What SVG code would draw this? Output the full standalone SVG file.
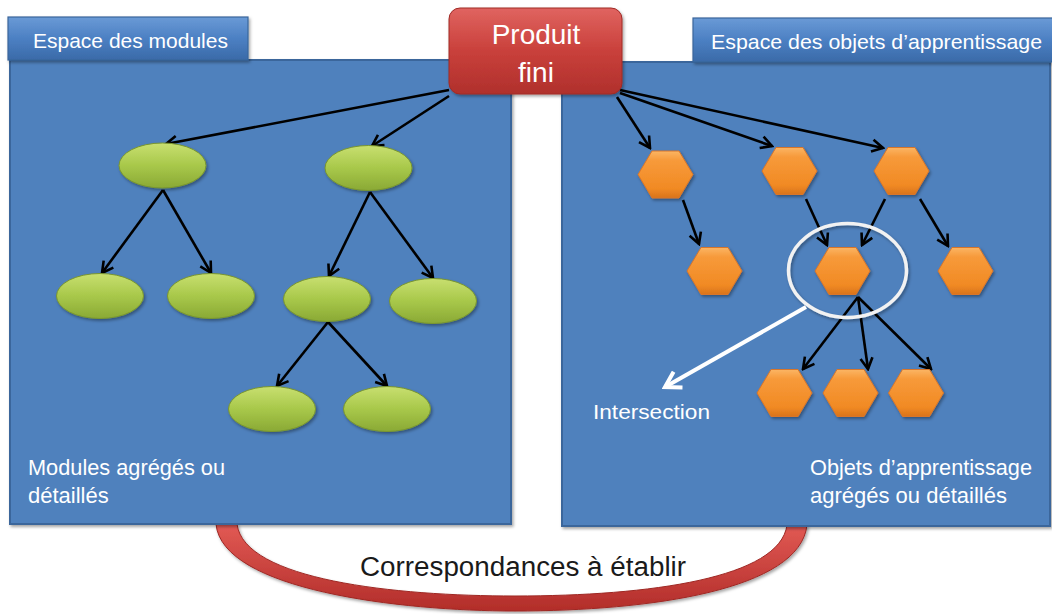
<svg xmlns="http://www.w3.org/2000/svg" width="1052" height="614" viewBox="0 0 1052 614">
<style>
.lbl{font-family:"Liberation Sans",Arial,sans-serif;fill:#ffffff}
.panel{fill:#4f81bd;stroke:#3a669b;stroke-width:2}
.tab{fill:url(#gTab);stroke:#3a669b;stroke-width:1.2}
.ell{fill:url(#gGreen);stroke:#7a962e;stroke-width:1}
.hex{fill:url(#gOrange);stroke:#d8762a;stroke-width:1}
.con{stroke:#000;stroke-width:2.6;fill:none;marker-end:url(#arr)}
</style>
<defs>
<linearGradient id="gTab" x1="0" y1="0" x2="0" y2="1">
<stop offset="0" stop-color="#6a9ad6"/><stop offset="0.5" stop-color="#4c80c3"/><stop offset="1" stop-color="#3a6aa8"/>
</linearGradient>
<linearGradient id="gRed" x1="0" y1="0" x2="0" y2="1">
<stop offset="0" stop-color="#e06460"/><stop offset="0.5" stop-color="#c9403b"/><stop offset="1" stop-color="#b0302c"/>
</linearGradient>
<linearGradient id="gArc" x1="0" y1="0" x2="0" y2="1">
<stop offset="0" stop-color="#e25a55"/><stop offset="1" stop-color="#b22d29"/>
</linearGradient>
<linearGradient id="gGreen" x1="0" y1="0" x2="0" y2="1">
<stop offset="0" stop-color="#c8df70"/><stop offset="0.5" stop-color="#a8c84a"/><stop offset="1" stop-color="#8aa935"/>
</linearGradient>
<linearGradient id="gOrange" x1="0" y1="0" x2="0" y2="1">
<stop offset="0" stop-color="#fbb564"/><stop offset="0.2" stop-color="#f79a3a"/><stop offset="0.8" stop-color="#f18a24"/><stop offset="1" stop-color="#d9731b"/>
</linearGradient>
<filter id="sh" x="-10%" y="-10%" width="130%" height="130%">
<feDropShadow dx="1.5" dy="2" stdDeviation="1.5" flood-color="#000" flood-opacity="0.35"/>
</filter>
<marker id="arr" markerUnits="userSpaceOnUse" markerWidth="16" markerHeight="16" viewBox="0 0 16 16" refX="14" refY="8" orient="auto">
<path d="M3,2 L14,8 L3,14" fill="none" stroke="#000" stroke-width="2.6" stroke-linejoin="miter"/>
</marker>
<marker id="arrW" markerUnits="userSpaceOnUse" markerWidth="22" markerHeight="22" viewBox="0 0 22 22" refX="19" refY="11" orient="auto">
<path d="M4,2 L19,11 L4,20" fill="none" stroke="#ffffff" stroke-width="4"/>
</marker>
</defs>
<rect width="1052" height="614" fill="#ffffff"/>

<g id="arc-correspondances">
<path d="M216,524 C222,590 400,611 515,611 C650,611 800,590 807,525 L787,525 C780,578 650,596 515,596 C395,596 244,580 237,524 Z" fill="url(#gArc)" stroke="#9e2824" stroke-width="1" filter="url(#sh)"/>
<text x="523" y="576" font-family="Liberation Sans,Arial,sans-serif" font-size="27" fill="#1a1a1a" text-anchor="middle" textLength="326" lengthAdjust="spacingAndGlyphs">Correspondances à établir</text>
</g>

<g id="panel-modules">
<rect class="panel" x="10" y="60" width="501" height="464" filter="url(#sh)"/>
<rect class="tab" x="8" y="17" width="240" height="43" filter="url(#sh)"/>
<text class="lbl" x="33" y="48" font-size="21">Espace des modules</text>
<text class="lbl" x="28" y="475" font-size="22" textLength="197" lengthAdjust="spacingAndGlyphs">Modules agrégés ou</text>
<text class="lbl" x="28" y="503" font-size="22">détaillés</text>
</g>

<g id="panel-objets">
<rect class="panel" x="562" y="62" width="488" height="464" filter="url(#sh)"/>
<rect class="tab" x="693" y="18" width="360" height="44" filter="url(#sh)"/>
<text class="lbl" x="711" y="49" font-size="21" textLength="331" lengthAdjust="spacingAndGlyphs">Espace des objets d’apprentissage</text>
<text class="lbl" x="810" y="475" font-size="22" textLength="222" lengthAdjust="spacingAndGlyphs">Objets d’apprentissage</text>
<text class="lbl" x="810" y="503" font-size="22">agrégés ou détaillés</text>
</g>

<g id="connectors">
<line class="con" x1="449" y1="90" x2="166" y2="144"/>
<line class="con" x1="449" y1="96" x2="372" y2="146"/>
<line class="con" x1="163" y1="190" x2="102" y2="273"/>
<line class="con" x1="163" y1="190" x2="211" y2="273"/>
<line class="con" x1="370" y1="192" x2="329" y2="276"/>
<line class="con" x1="370" y1="192" x2="433" y2="278"/>
<line class="con" x1="328" y1="322" x2="277" y2="386"/>
<line class="con" x1="328" y1="322" x2="387" y2="386"/>
<line class="con" x1="617" y1="97" x2="650" y2="148"/>
<line class="con" x1="620" y1="93" x2="772" y2="146"/>
<line class="con" x1="620" y1="90" x2="883" y2="148"/>
<line class="con" x1="683" y1="200" x2="699" y2="244"/>
<line class="con" x1="806" y1="199" x2="827" y2="245"/>
<line class="con" x1="885" y1="199" x2="862" y2="245"/>
<line class="con" x1="920" y1="199" x2="948" y2="246"/>
<line class="con" x1="858" y1="297" x2="803" y2="369"/>
<line class="con" x1="858" y1="297" x2="868" y2="369"/>
<line class="con" x1="858" y1="297" x2="931" y2="369"/>
</g>

<g id="produit-fini">
<rect x="449" y="8" width="173" height="86" rx="11" fill="url(#gRed)" stroke="#a02a26" stroke-width="1" filter="url(#sh)"/>
<text class="lbl" x="536" y="44" font-size="28" text-anchor="middle">Produit</text>
<text class="lbl" x="536" y="82" font-size="28" text-anchor="middle">fini</text>
</g>

<g id="modules">
<ellipse id="m1" class="ell" cx="162.5" cy="165.5" rx="43.5" ry="22.5" filter="url(#sh)"/>
<ellipse id="m2" class="ell" cx="368.5" cy="168" rx="43.5" ry="22.5" filter="url(#sh)"/>
<ellipse id="m3" class="ell" cx="100" cy="296" rx="43.5" ry="22.5" filter="url(#sh)"/>
<ellipse id="m4" class="ell" cx="211" cy="296" rx="43.5" ry="22.5" filter="url(#sh)"/>
<ellipse id="m5" class="ell" cx="327" cy="299" rx="43.5" ry="22.5" filter="url(#sh)"/>
<ellipse id="m6" class="ell" cx="433" cy="301" rx="43.5" ry="22.5" filter="url(#sh)"/>
<ellipse id="m7" class="ell" cx="272" cy="409" rx="43.5" ry="22.5" filter="url(#sh)"/>
<ellipse id="m8" class="ell" cx="387" cy="409" rx="43.5" ry="22.5" filter="url(#sh)"/>
</g>

<g id="objets">
<g id="o1"><polygon class="hex" points="638,174.5 652,151 679,151 693,174.5 679,198 652,198" filter="url(#sh)"/></g>
<g id="o2"><polygon class="hex" points="762,171 776,147.5 803,147.5 817,171 803,194.5 776,194.5" filter="url(#sh)"/></g>
<g id="o3"><polygon class="hex" points="874,171 888,147.5 915,147.5 929,171 915,194.5 888,194.5" filter="url(#sh)"/></g>
<g id="o4"><polygon class="hex" points="687,271 701,247.5 728,247.5 742,271 728,294.5 701,294.5" filter="url(#sh)"/></g>
<g id="o5"><polygon class="hex" points="815,271 829,247.5 856,247.5 870,271 856,294.5 829,294.5" filter="url(#sh)"/></g>
<g id="o6"><polygon class="hex" points="938,271 952,247.5 979,247.5 993,271 979,294.5 952,294.5" filter="url(#sh)"/></g>
<g id="o7"><polygon class="hex" points="757,393 771,369.5 798,369.5 812,393 798,416.5 771,416.5" filter="url(#sh)"/></g>
<g id="o8"><polygon class="hex" points="823,393 837,369.5 864,369.5 878,393 864,416.5 837,416.5" filter="url(#sh)"/></g>
<g id="o9"><polygon class="hex" points="888.5,393 902.5,369.5 929.5,369.5 943.5,393 929.5,416.5 902.5,416.5" filter="url(#sh)"/></g>
</g>

<g id="intersection">
<ellipse cx="847.5" cy="270.5" rx="59" ry="47" fill="none" stroke="#f2f2f2" stroke-width="3.5" filter="url(#sh)"/>
<line x1="806" y1="307" x2="665" y2="387" stroke="#ffffff" stroke-width="4" marker-end="url(#arrW)"/>
<text class="lbl" x="593" y="419" font-size="21" textLength="117" lengthAdjust="spacingAndGlyphs">Intersection</text>
</g>
</svg>
